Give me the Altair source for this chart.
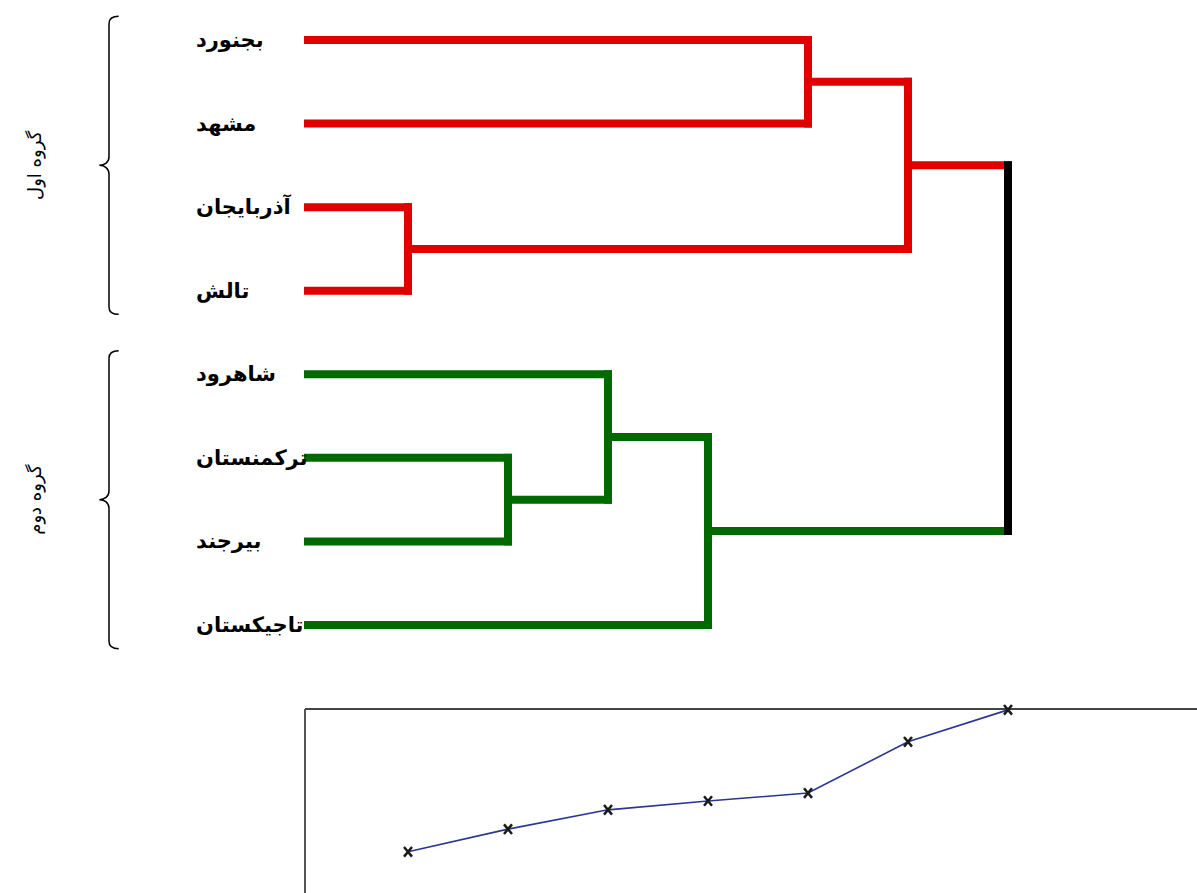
import altair as alt
import pandas as pd

# ---------------- data ----------------
leaves = ["بجنورد", "مشهد", "آذربایجان", "تالش", "شاهرود", "ترکمنستان", "بیرجند", "تاجیکستان"]
leaf_group = ["g1", "g1", "g1", "g1", "g2", "g2", "g2", "g2"]

# agglomerative merges (node ids: leaves 0..7, merges 8..14)
merge_left = [2, 5, 4, 10, 0, 12, 13]
merge_right = [3, 6, 9, 7, 1, 8, 11]
merge_step = [1, 2, 3, 4, 5, 6, 7]
merge_distance = [0.98, 1.52, 1.98, 2.19, 2.38, 3.60, 4.36]

group_names = ["گروه اول", "گروه دوم"]
group_first = [0, 4]
group_last = [3, 7]

# ---------------- layout constants ----------------
X_DOMAIN = [-3.08, 8.89]          # merge-step units across the figure
Y_DOMAIN = [-0.4786, 10.207]      # leaf-index units across the figure (reversed)
D_DOMAIN = [0, 21.26]             # merge-distance units across the figure
LABEL_X = -1.12
BRACE_X = -1.99
GROUP_LABEL_X = -2.72
FRAME_LEFT = -0.03
FRAME_TOP = 4.38

W, H = 1197, 893

# ---------------- dendrogram geometry from linkage ----------------
n = len(leaves)
pos = {i: float(i) for i in range(n)}
hgt = {i: 0.0 for i in range(n)}
grp = {i: leaf_group[i] for i in range(n)}
segs = []
for k, (l, r, s) in enumerate(zip(merge_left, merge_right, merge_step)):
    node = n + k
    pos[node] = (pos[l] + pos[r]) / 2
    hgt[node] = s
    grp[node] = grp[l] if grp[l] == grp[r] else "root"
    segs.append({"x": s, "x2": s, "y": pos[l], "y2": pos[r], "c": grp[node]})
    for c in (l, r):
        segs.append({"x": hgt[c], "x2": s, "y": pos[c], "y2": pos[c], "c": grp[c]})
segs_df = pd.DataFrame(segs)
segs_df["order"] = (segs_df["c"] == "root").astype(int)

labels_df = pd.DataFrame({"name": leaves, "y": list(range(n)), "x": LABEL_X})

groups_df = pd.DataFrame({
    "name": group_names,
    "y": [(a + b) / 2 for a, b in zip(group_first, group_last)],
    "bx": BRACE_X,
    "lx": GROUP_LABEL_X,
})

line_df = pd.DataFrame({"step": merge_step, "d": merge_distance})
frame_top_df = pd.DataFrame({"x": [FRAME_LEFT], "x2": [X_DOMAIN[1]], "d": [FRAME_TOP]})
frame_left_df = pd.DataFrame({"x": [FRAME_LEFT], "d": [FRAME_TOP], "d2": [D_DOMAIN[0]]})

xs = alt.Scale(domain=X_DOMAIN, nice=False, zero=False)
ys = alt.Scale(domain=Y_DOMAIN, nice=False, zero=False, reverse=True)
ds = alt.Scale(domain=D_DOMAIN, nice=False, zero=False)

color_scale = alt.Scale(domain=["g1", "g2", "root"], range=["#e00000", "#006a00", "#000000"])

segments = alt.Chart(segs_df).mark_rule(strokeWidth=8, strokeCap="square").encode(
    x=alt.X("x:Q", scale=xs, axis=None),
    x2="x2:Q",
    y=alt.Y("y:Q", scale=ys, axis=None),
    y2="y2:Q",
    color=alt.Color("c:N", scale=color_scale, legend=None),
    order="order:Q",
)

labels = alt.Chart(labels_df).mark_text(
    align="left", baseline="middle", font="DejaVu Sans", fontWeight="bold", fontSize=21, color="black",
    dy=1
).encode(
    x=alt.X("x:Q", scale=xs, axis=None),
    y=alt.Y("y:Q", scale=ys, axis=None),
    text="name:N",
)

brace_path = (
    "M 0.065 -1 C 0.02 -1 0 -0.985 0 -0.95 L 0 -0.06 C 0 -0.02 -0.03 0 -0.065 0 "
    "C -0.03 0 0 0.02 0 0.06 L 0 0.95 C 0 0.985 0.02 1 0.065 1"
)
braces = alt.Chart(groups_df).mark_point(
    shape=brace_path, filled=False, size=298 ** 2, strokeWidth=1.5, color="black", opacity=1
).encode(
    x=alt.X("bx:Q", scale=xs, axis=None),
    y=alt.Y("y:Q", scale=ys, axis=None),
)

group_labels = alt.Chart(groups_df).mark_text(
    angle=270, align="center", baseline="middle", font="DejaVu Sans", fontSize=18, color="black"
).encode(
    x=alt.X("lx:Q", scale=xs, axis=None),
    y=alt.Y("y:Q", scale=ys, axis=None),
    text="name:N",
)

frame_top = alt.Chart(frame_top_df).mark_rule(color="#444444", strokeWidth=2).encode(
    x=alt.X("x:Q", scale=xs, axis=None),
    x2="x2:Q",
    y=alt.Y("d:Q", scale=ds, axis=None),
)
frame_left = alt.Chart(frame_left_df).mark_rule(color="#555555", strokeWidth=2).encode(
    x=alt.X("x:Q", scale=xs, axis=None),
    y=alt.Y("d:Q", scale=ds, axis=None),
    y2="d2:Q",
)

line = alt.Chart(line_df).mark_line(color="#2b3592", strokeWidth=1.6).encode(
    x=alt.X("step:Q", scale=xs, axis=None),
    y=alt.Y("d:Q", scale=ds, axis=None),
)
markers = alt.Chart(line_df).mark_point(
    shape="M -1 -1.2 L 1 1.2 M -1 1.2 L 1 -1.2", filled=False, size=64, strokeWidth=2.5,
    color="#1a1a1a", opacity=1
).encode(
    x=alt.X("step:Q", scale=xs, axis=None),
    y=alt.Y("d:Q", scale=ds, axis=None),
)

chart = alt.layer(
    segments, labels, braces, group_labels, frame_top, frame_left, line, markers
).resolve_scale(y="independent").properties(
    width=W, height=H, padding=0, autosize=alt.AutoSizeParams(type="none"), background="white"
).configure_view(stroke=None)

chart.save("out.html", embed_options={"renderer": "svg", "actions": False})
